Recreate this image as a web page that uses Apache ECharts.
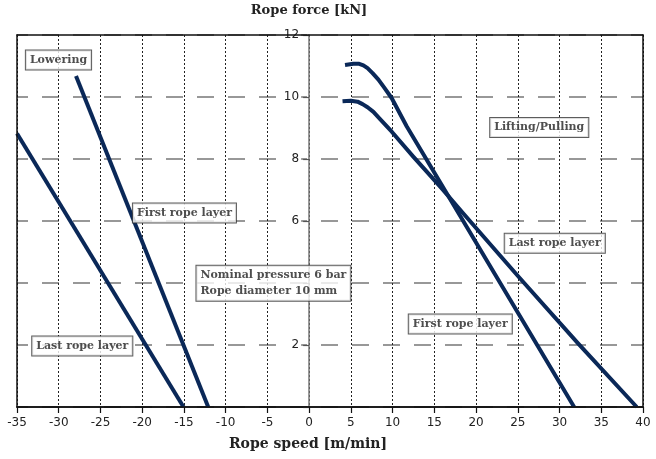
<!DOCTYPE html>
<html>
<head>
<meta charset="utf-8">
<script src="https://cdn.jsdelivr.net/npm/echarts@6/dist/echarts.min.js"></script>
<style>
  html, body { margin: 0; padding: 0; background: #fff; }
  #chart { width: 656px; height: 459px; }
</style>
</head>
<body>
<div id="chart"></div>
<script>
// axis ticks
const speedTicks = { min: -35, max: 40, step: 5 };
const forceTicks = { min: 0, max: 12, step: 2 };

// curves: [speed m/min, force kN]
const lowerLastLayer = [[-35, 8.82], [-15.05, 0]];
const lowerFirstLayer = [[-27.93, 10.68], [-12.09, 0]];
const liftFirstLayer = [[4.3, 11.03], [5.3, 11.07], [6.0, 11.07], [6.5, 11.02], [7.0, 10.93],
  [7.6, 10.77], [8.3, 10.56], [9.0, 10.3], [9.9, 9.96], [11.7, 9.05], [14.1, 7.97], [31.75, 0]];
const liftLastLayer = [[4.0, 9.86], [5.0, 9.88], [5.8, 9.85], [6.4, 9.77], [7.0, 9.67],
  [7.7, 9.52], [8.5, 9.29], [9.9, 8.88], [12.5, 8.07], [15.7, 7.11], [18.45, 6.25],
  [25.2, 4.17], [32.3, 2.03], [39.25, 0]];

// boxed annotations
const noteTexts = ['Lowering', 'First rope layer', 'Last rope layer',
  'Nominal pressure 6 bar\nRope diameter 10 mm', 'Lifting/Pulling', 'Last rope layer', 'First rope layer'];
const noteAt = [[-30.03, 11.19], [-14.94, 6.26], [-27.18, 1.97],
  [-13.5, 3.99], [27.57, 9.02], [29.43, 5.28], [18.11, 2.68]];
const noteLeftAligned = [false, false, false, true, false, false, false];

const navy = '#0a2858';
const serif = 'DejaVu Serif';
const gridBox = { left: 17, right: 13, top: 35, bottom: 52 };
const plotWidth = 656 - gridBox.left - gridBox.right;
// y axis sits at speed 0
const zeroOffset = -plotWidth * (0 - speedTicks.min) / (speedTicks.max - speedTicks.min);

const chart = echarts.init(document.getElementById('chart'));

const curveSeries = [lowerLastLayer, lowerFirstLayer, liftFirstLayer, liftLastLayer].map((pts) => ({
  type: 'line',
  data: pts,
  showSymbol: false,
  lineStyle: { color: navy, width: 4, join: 'round' },
  z: 3,
  silent: true,
}));

const noteData = noteTexts.map((t, i) => {
  const item = { value: [noteAt[i][0], noteAt[i][1], t] };
  if (noteLeftAligned[i]) item.label = { align: 'left' };
  return item;
});

const hiddenAxis = {
  axisTick: { show: false }, axisLabel: { show: false }, splitLine: { show: false },
};
const frameLine = { onZero: false, lineStyle: { color: '#111', width: 1.5 } };

chart.setOption({
  animation: false,
  grid: Object.assign({ outerBoundsMode: 'none', containLabel: false }, gridBox),
  graphic: [
    { type: 'text', x: 309, y: 4, style: { text: 'Rope force [kN]', textAlign: 'center', fontFamily: serif, fontWeight: 'bold', fontSize: 13, fill: '#222' } },
    { type: 'text', x: 308, y: 437, style: { text: 'Rope speed [m/min]', textAlign: 'center', fontFamily: serif, fontWeight: 'bold', fontSize: 14, fill: '#222' } },
  ],
  xAxis: [
    {
      type: 'value', min: speedTicks.min, max: speedTicks.max, interval: speedTicks.step,
      axisLine: frameLine,
      axisTick: { length: 6, lineStyle: { color: '#111', width: 1.2 } },
      axisLabel: { margin: 10, fontSize: 12, color: '#222', fontFamily: 'DejaVu Sans' },
      splitLine: { show: true, lineStyle: { color: '#222', width: 1, type: [2, 2] } },
    },
    Object.assign({
      type: 'value', position: 'top', min: speedTicks.min, max: speedTicks.max, interval: speedTicks.step, z: 4,
      axisLine: frameLine,
    }, hiddenAxis),
    Object.assign({
      type: 'value', position: 'bottom', min: speedTicks.min, max: speedTicks.max, interval: speedTicks.step, z: 4,
      axisLine: frameLine,
    }, hiddenAxis),
  ],
  yAxis: [
    {
      type: 'value', position: 'left', offset: zeroOffset,
      min: forceTicks.min, max: forceTicks.max, interval: forceTicks.step,
      axisLine: { onZero: false, lineStyle: { color: '#777', width: 1.5 } },
      axisTick: { length: 6, lineStyle: { color: '#555', width: 1.2 } },
      axisLabel: {
        margin: 8, fontSize: 12, color: '#222', fontFamily: 'DejaVu Sans',
        backgroundColor: '#fff', padding: [0, 2],
        formatter: (v) => (v === 0 || v === 4 ? '' : String(v)),
      },
      splitLine: { show: true, lineStyle: { color: '#777', width: 1.5, type: [17, 14], dashOffset: 6 } },
    },
    Object.assign({
      type: 'value', position: 'right', min: forceTicks.min, max: forceTicks.max, interval: forceTicks.step, z: 4,
      axisLine: frameLine,
    }, hiddenAxis),
    Object.assign({
      type: 'value', position: 'left', min: forceTicks.min, max: forceTicks.max, interval: forceTicks.step, z: 4,
      axisLine: frameLine,
    }, hiddenAxis),
  ],
  series: curveSeries.concat([{
    type: 'scatter',
    data: noteData,
    symbolSize: 0,
    z: 6,
    silent: true,
    label: {
      show: true,
      position: 'inside',
      formatter: (p) => p.value[2],
      fontFamily: serif,
      fontWeight: 'bold',
      fontSize: 11,
      lineHeight: 16,
      color: '#222',
      backgroundColor: '#fff',
      borderColor: '#333',
      borderWidth: 1,
      padding: [2, 4, 1, 4],
    },
  }]),
});
</script>
</body>
</html>
